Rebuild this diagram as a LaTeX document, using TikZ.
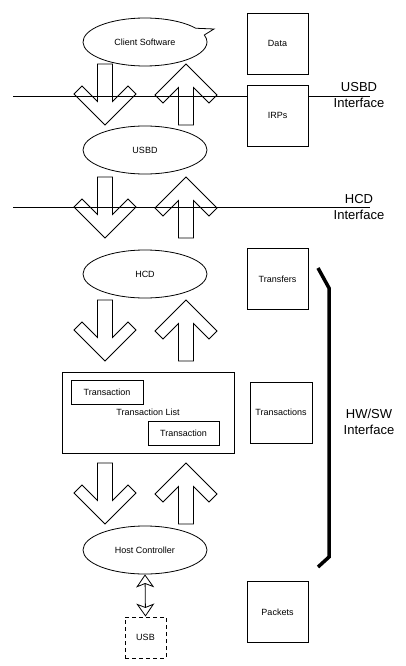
\documentclass[tikz,border=0pt]{standalone}
\usepackage{fontspec}
\setmainfont{Liberation Sans}
\usepackage{tikz}
\usetikzlibrary{shapes.geometric, shapes.callouts, arrows.meta, positioning}
\tikzstyle{layer} = [ellipse, draw=black, line width=0.8pt, minimum width=124pt, minimum height=48pt, inner sep=0pt, font=\fontsize{9}{11}\selectfont]
\tikzstyle{datablock} = [rectangle, draw=black, fill=white, line width=0.8pt, minimum width=61pt, minimum height=61pt, inner sep=0pt, font=\fontsize{9}{11}\selectfont]
\tikzstyle{txn} = [rectangle, draw=black, fill=white, line width=0.8pt, minimum width=72pt, minimum height=24pt, inner sep=0pt, font=\fontsize{9}{11}\selectfont]
\tikzstyle{iface} = [align=center, font=\fontsize{13}{16}\selectfont]
\tikzstyle{busline} = [draw=black, line width=0.8pt]
\tikzstyle{dblarrow} = [line width=0.8pt, {Stealth[open,length=13pt,width=18pt,inset=3.5pt]}-{Stealth[open,length=13pt,width=18pt,inset=3.5pt]}]

\begin{document}
\begin{tikzpicture}[
    x=1pt, y=-1pt,
    pics/down block/.style={code={
        \draw[line width=0.8pt] (-7.5,0) -- (7.5,0) -- (7.5,37.5) -- (23,22) -- (31,30)
            -- (0,61) -- (-31,30) -- (-23,22) -- (-7.5,37.5) -- cycle;
    }},
    pics/up block/.style={code={
        \draw[line width=0.8pt] (0,0) -- (31,31) -- (23,39) -- (7.5,23.5) -- (7.5,61)
            -- (-7.5,61) -- (-7.5,23.5) -- (-23,39) -- (-31,31) -- cycle;
    }}
]
\useasboundingbox (0,0) rectangle (405,666);

% interface lines
\coordinate (usbdL) at (13,96);
\coordinate (usbdR) at (370,96);
\coordinate (hcdL) at (13,207);
\coordinate (hcdR) at (370,207);
\draw[busline] (usbdL) -- (usbdR);
\draw[busline] (hcdL) -- (hcdR);

% software / hardware layers
\node[layer, ellipse callout, callout absolute pointer={(214,29)}, callout pointer arc=18] (client) at (145,42) {Client Software};
\node[layer] (usbd) at (145,150) {USBD};
\node[layer] (hcd) at (145,274) {HCD};
\node[layer] (hc) at (145,550) {Host Controller};

% transaction list
\node[rectangle, draw=black, line width=0.8pt, minimum width=172pt, minimum height=81pt, inner sep=0pt,
      font=\fontsize{9}{11}\selectfont] (tlist) at (148,412.5) {Transaction List};
\node[txn, anchor=north west] (tx1) at ([shift={(9,8)}]tlist.north west) {Transaction};
\node[txn, anchor=south east, minimum width=71pt] (tx2) at ([shift={(-15,-8)}]tlist.south east) {Transaction};

% block arrows
\foreach \y in {64,177,300,463} {
    \pic at (105,\y) {down block};
    \pic at (186,\y) {up block};
}

% usb
\node[rectangle, draw=black, dash pattern=on 4pt off 3pt, line width=0.9pt, minimum width=41pt, minimum height=41pt] (usb) at (145.5,637.5) {\fontsize{9}{11}\selectfont USB};
\draw[dblarrow] (hc.south) -- (usb.north);

% data units
\node[datablock] (data) at (277.5,43.5) {Data};
\node[datablock] (irps) at (277.5,115.5) {IRPs};
\node[datablock] (transfers) at (277.5,279) {Transfers};
\node[datablock, minimum width=62pt] (transactions) at (281,412.5) {Transactions};
\node[datablock] (packets) at (277.5,612) {Packets};

% interface labels
\node[iface] (usbdif) at (359,95) {USBD\\Interface};
\node[iface] (hcdif) at (359,207) {HCD\\Interface};
\node[iface] (hwswif) at (369,422) {HW/SW\\Interface};

% hw/sw bracket
\draw[line width=3.5pt] (318,268) -- (329,288) -- (329,557) -- (318,567);

\end{tikzpicture}
\end{document}
